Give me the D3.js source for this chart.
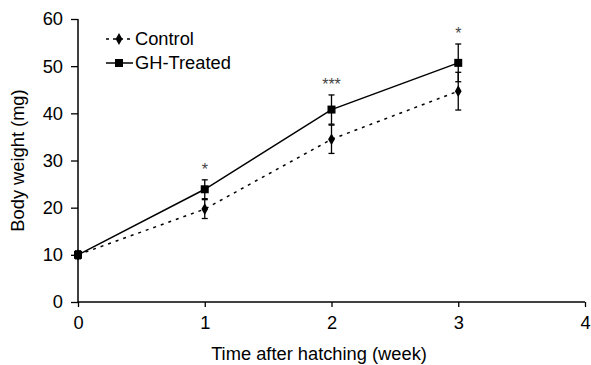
<!DOCTYPE html>
<html>
<head>
<meta charset="utf-8">
<script src="https://cdn.jsdelivr.net/npm/d3@7"></script>
<style>
  body { margin: 0; background: #fff; }
  svg { font-family: "Liberation Sans", Arial, sans-serif; }
</style>
</head>
<body>
<svg id="chart" width="591" height="365"></svg>
<script>
const weeks = [0, 1, 2, 3];
const control = [10, 19.7, 34.5, 44.7];
const controlErr = [0.8, 2, 3, 4];
const treated = [10, 23.9, 40.8, 50.7];
const treatedErr = [0.8, 2, 3.1, 4];
const stars = ["", "*", "***", "*"];
const xTicks = [0, 1, 2, 3, 4];
const yTicks = [0, 10, 20, 30, 40, 50, 60];

const margin = { top: 19, right: 6, bottom: 63, left: 78 };
const width = 591, height = 365;
const fs = 18.3;
const svg = d3.select("#chart");

const x = d3.scaleLinear().domain([0, 4]).range([margin.left, width - margin.right]);
const y = d3.scaleLinear().domain([0, 60]).range([height - margin.bottom, margin.top]);

const xAxis = g => g.attr("transform", `translate(0,${y(0)})`)
    .call(d3.axisBottom(x).tickValues(xTicks).tickSize(5).tickPadding(9).tickFormat(d3.format("d")))
    .call(g => g.select(".domain").attr("stroke-width", 1.5).attr("d", `M${x(0)},0H${x(4)}`))
    .call(g => g.selectAll(".tick line").attr("stroke-width", 1.3))
    .call(g => g.selectAll("text").attr("font-size", fs).attr("fill", "#000"));

const yAxis = g => g.attr("transform", `translate(${x(0)},0)`)
    .call(d3.axisLeft(y).tickValues(yTicks).tickSize(7).tickPadding(8))
    .call(g => g.select(".domain").attr("stroke-width", 1.5).attr("d", `M0,${y(0)}V${y(60)}`))
    .call(g => g.selectAll(".tick line").attr("stroke-width", 1.3))
    .call(g => g.selectAll("text").attr("font-size", fs).attr("fill", "#000"));

svg.append("g").call(xAxis);
svg.append("g").call(yAxis);

svg.append("text").attr("x", 319).attr("y", 360)
    .attr("text-anchor", "middle").attr("font-size", fs).text("Time after hatching (week)");
svg.append("text").attr("transform", `translate(24,${(y(0) + y(60)) / 2}) rotate(-90)`)
    .attr("text-anchor", "middle").attr("font-size", fs).text("Body weight (mg)");

const line = d3.line().x((d, i) => x(weeks[i])).y(d => y(d));

function errBars(vals, errs) {
    const g = svg.append("g").attr("stroke", "#000").attr("stroke-width", 1.3);
    vals.forEach((v, i) => {
        const cx = x(weeks[i]);
        g.append("line").attr("x1", cx).attr("x2", cx).attr("y1", y(v - errs[i])).attr("y2", y(v + errs[i]));
        [v - errs[i], v + errs[i]].forEach(e => {
            g.append("line").attr("x1", cx - 3).attr("x2", cx + 3).attr("y1", y(e)).attr("y2", y(e));
        });
    });
}

errBars(control, controlErr);
errBars(treated, treatedErr);

svg.append("path").datum(control).attr("d", line).attr("fill", "none")
    .attr("stroke", "#000").attr("stroke-width", 1.5).attr("stroke-dasharray", "3,5");
svg.append("path").datum(treated).attr("d", line).attr("fill", "none")
    .attr("stroke", "#000").attr("stroke-width", 1.5);

const diamond = d3.symbol().type(d3.symbolDiamond).size(40);
svg.append("g").selectAll("path").data(control).join("path")
    .attr("transform", (d, i) => `translate(${x(weeks[i])},${y(d)})`)
    .attr("d", diamond).attr("fill", "#000");
svg.append("g").selectAll("rect").data(treated).join("rect")
    .attr("x", (d, i) => x(weeks[i]) - 4).attr("y", d => y(d) - 4)
    .attr("width", 8).attr("height", 8).attr("fill", "#000");

svg.append("g").selectAll("text").data(stars).join("text")
    .attr("x", (d, i) => x(weeks[i]))
    .attr("y", (d, i) => y(treated[i] + treatedErr[i]) - 5)
    .attr("text-anchor", "middle").attr("font-size", 16).attr("fill", "#444")
    .text(d => d);

// legend
const legend = svg.append("g");
const items = [
    { label: "Control", dash: "3,4", y: 39, sym: "diamond" },
    { label: "GH-Treated", dash: null, y: 63, sym: "square" }
];
items.forEach(it => {
    legend.append("line").attr("x1", 106).attr("x2", 133).attr("y1", it.y).attr("y2", it.y)
        .attr("stroke", "#000").attr("stroke-width", 1.5).attr("stroke-dasharray", it.dash);
    if (it.sym === "diamond") {
        legend.append("path").attr("transform", `translate(119,${it.y})`).attr("d", diamond).attr("fill", "#000");
    } else {
        legend.append("rect").attr("x", 115).attr("y", it.y - 4).attr("width", 8).attr("height", 8).attr("fill", "#000");
    }
    legend.append("text").attr("x", 135).attr("y", it.y + 6).attr("font-size", fs).text(it.label);
});
</script>
</body>
</html>
